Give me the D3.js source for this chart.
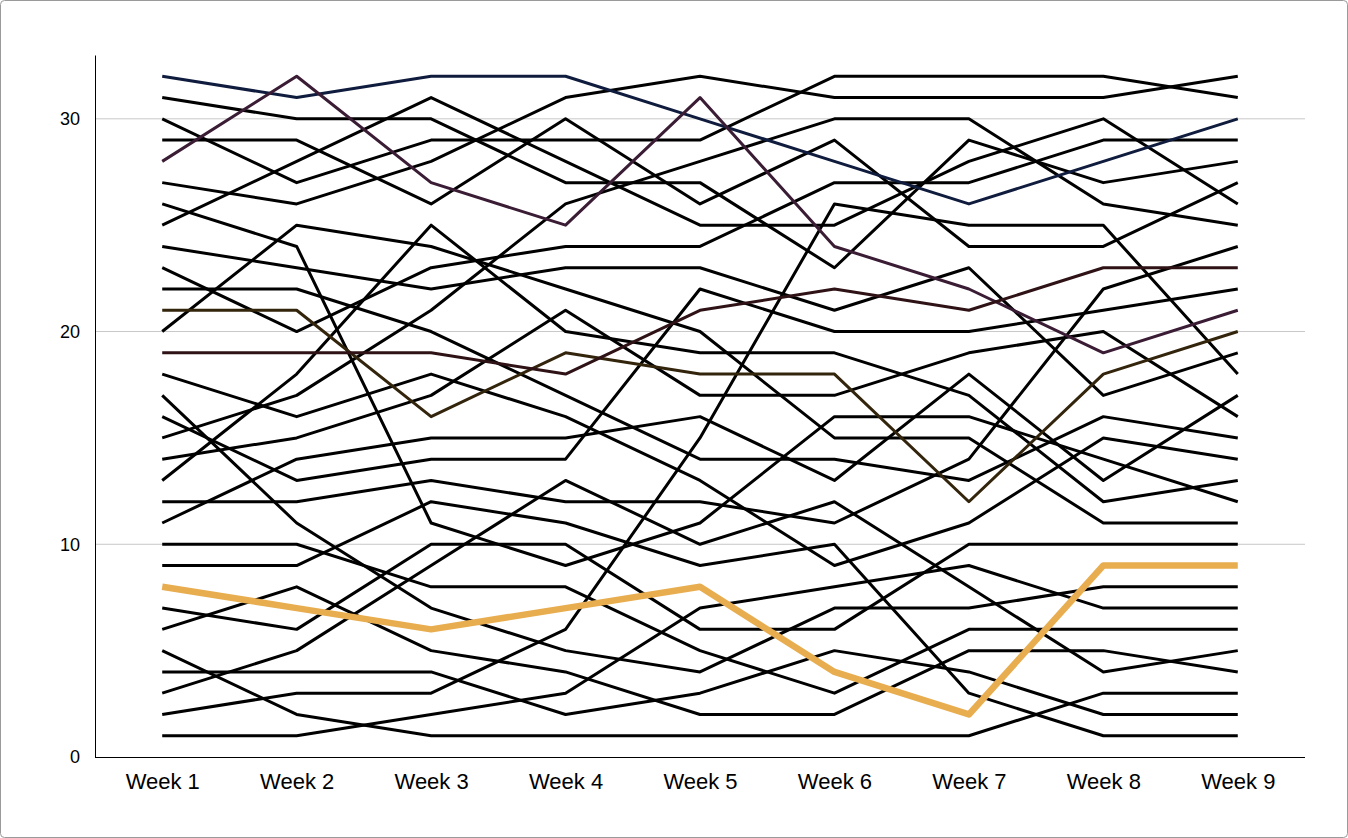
<!DOCTYPE html>
<html><head><meta charset="utf-8">
<script src="https://cdn.jsdelivr.net/npm/d3@7"></script>
<style>
html,body{margin:0;padding:0;background:#fff;}
svg{display:block;}
</style></head>
<body><svg id="chart" width="1348" height="838"></svg>
<script>
const weeks = ["Week 1","Week 2","Week 3","Week 4","Week 5","Week 6","Week 7","Week 8","Week 9"];
const yTicks = [0,10,20,30];
// rank of each team per week (one row per team)
const teamRanks = [
  [32,31,32,32,30,28,26,28,30],
  [31,30,30,27,27,23,29,27,28],
  [30,27,29,29,29,32,32,32,31],
  [29,29,26,30,26,29,24,24,27],
  [28,32,27,25,31,24,22,19,21],
  [27,26,28,31,32,31,31,31,32],
  [26,24,11,9,11,16,16,14,12],
  [25,28,31,28,25,25,28,30,26],
  [24,23,22,23,23,21,23,17,19],
  [23,20,23,24,24,27,27,29,29],
  [22,22,20,17,14,14,13,16,15],
  [21,21,16,19,18,18,12,18,20],
  [20,25,24,22,20,15,15,11,11],
  [19,19,19,18,21,22,21,23,23],
  [18,16,18,16,13,9,11,15,14],
  [17,11,7,5,4,7,7,8,8],
  [16,13,14,14,22,20,20,21,22],
  [15,17,21,26,28,30,30,26,25],
  [14,15,17,21,17,17,19,20,16],
  [13,18,25,20,19,19,17,12,13],
  [12,12,13,12,12,11,14,22,24],
  [11,14,15,15,16,13,18,13,17],
  [10,10,8,8,5,3,6,6,6],
  [9,9,12,11,9,10,3,1,1],
  [8,7,6,7,8,4,2,9,9],
  [7,6,10,10,6,6,10,10,10],
  [6,8,5,4,2,2,5,5,4],
  [5,2,1,1,1,1,1,3,3],
  [4,4,4,2,3,5,4,2,2],
  [3,5,9,13,10,12,8,4,5],
  [2,3,3,6,15,26,25,25,18],
  [1,1,2,3,7,8,9,7,7]
];
const teamColors = ["#101c3e","#000","#000","#000","#3a1c34","#000","#000","#000","#000","#000","#000","#33240c","#000","#2e1216","#000","#000","#000","#000","#000","#000","#000","#000","#000","#000","#e8ad4f","#000","#000","#000","#000","#000","#000","#000"];
const teamWidths = teamColors.map(c => c === "#e8ad4f" ? 6.5 : 3);

const svg = d3.select("#chart");
svg.append("rect").attr("x",0.5).attr("y",0.5).attr("width",1347).attr("height",837)
  .attr("rx",4).attr("fill","#fff").attr("stroke","#9a9a9a").attr("stroke-width",1);

const x = d3.scalePoint().domain(weeks).range([95,1305]).padding(0.5);
const y = d3.scaleLinear().domain([0,33]).range([757,55]);

// grid
svg.append("g").selectAll("line").data(yTicks.filter(t=>t>0)).join("line")
  .attr("x1",95).attr("x2",1305).attr("y1",d=>y(d)).attr("y2",d=>y(d))
  .attr("stroke","#c8c8c8").attr("stroke-width",1);

// y axis
const ya = svg.append("g").attr("transform","translate(95,0)")
  .call(d3.axisLeft(y).tickValues(yTicks).tickSize(0).tickPadding(15));
ya.select(".domain").attr("stroke","#000").attr("stroke-width",1);
ya.selectAll("text").attr("font-family","Liberation Sans, Arial, sans-serif").attr("font-size",18).attr("fill","#000");

// x axis
const xa = svg.append("g").attr("transform","translate(0,757)")
  .call(d3.axisBottom(x).tickSize(0).tickPadding(16));
xa.select(".domain").attr("stroke","#000").attr("stroke-width",1).attr("d","M95,0.5H1305");
xa.selectAll("text").attr("font-family","Liberation Sans, Arial, sans-serif").attr("font-size",22).attr("fill","#000");

const line = d3.line().x((d,i)=>x(weeks[i])).y(d=>y(d));
const order = d3.range(teamRanks.length).sort((a,b)=>{
  const pa = teamColors[a]==="#000"?0:(teamColors[a]==="#e8ad4f"?2:1);
  const pb = teamColors[b]==="#000"?0:(teamColors[b]==="#e8ad4f"?2:1);
  return pa-pb;
});
svg.append("g").selectAll("path").data(order).join("path")
  .attr("d",i=>line(teamRanks[i]))
  .attr("fill","none")
  .attr("stroke",i=>teamColors[i])
  .attr("stroke-width",i=>teamWidths[i])
  .attr("stroke-linejoin","round");
</script></body></html>
